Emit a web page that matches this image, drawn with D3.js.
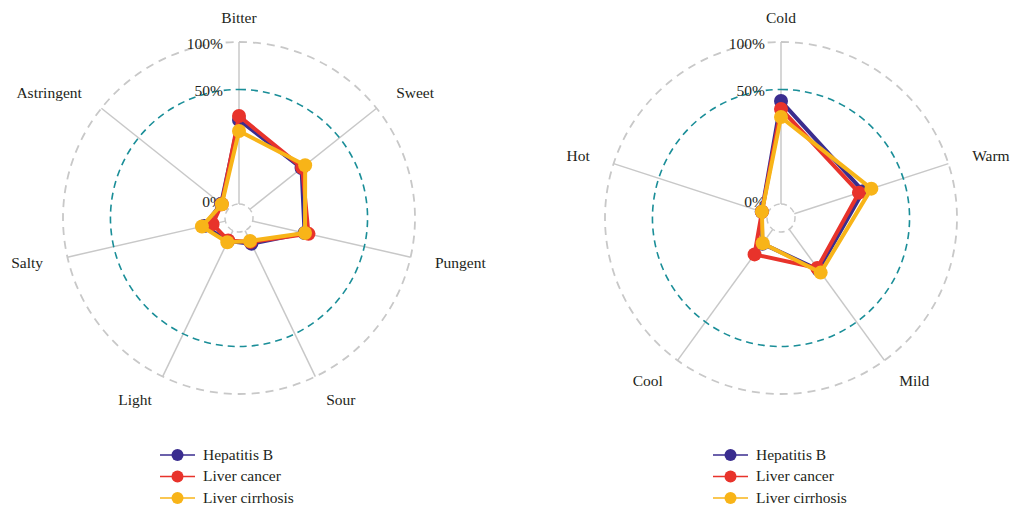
<!DOCTYPE html>
<html><head><meta charset="utf-8">
<script src="https://cdn.jsdelivr.net/npm/d3@7"></script>
<style>body{margin:0;background:#fff}text{font-family:"Liberation Serif","DejaVu Serif",serif;fill:#231f20}</style>
</head><body>
<svg id="c" width="1016" height="509"></svg>
<script>
const seriesNames = ["Hepatitis B", "Liver cancer", "Liver cirrhosis"];
const seriesColors = ["#3a2d8f", "#e8332b", "#f8b418"];
const tasteAxes = ["Bitter", "Sweet", "Pungent", "Sour", "Light", "Salty", "Astringent"];
const tasteHepB = [0.269, 0.166, 0.108, 0.008, 0.005, 0.018, 0.003];
const tasteCancer = [0.295, 0.17, 0.125, 0.006, 0.0045, 0.0065, 0.0025];
const tasteCirrhosis = [0.203, 0.19, 0.11, 0.005, 0.0064, 0.022, 0.0024];
const natureAxes = ["Cold", "Warm", "Mild", "Cool", "Hot"];
const natureHepB = [0.404, 0.2, 0.095, 0.012, 0.0015];
const natureCancer = [0.344, 0.176, 0.087, 0.0366, 0.0014];
const natureCirrhosis = [0.288, 0.25, 0.109, 0.0113, 0.0014];
const tickValues = [0, 0.5, 1];
const tickLabels = ["0%", "50%", "100%"];

const svg = d3.select("#c");

function radar(cx, cy, axes, seriesVals, legendX) {
  const R = 176, r0 = 14;
  const r = d3.scaleSqrt().domain([0, 1]).range([r0, R]);
  const ang = d3.scalePoint().domain(axes).range([0, 2 * Math.PI * (axes.length - 1) / axes.length]);
  const g = svg.append("g").attr("transform", `translate(${cx},${cy})`);
  const pt = (a, rad) => [Math.sin(ang(a)) * rad, -Math.cos(ang(a)) * rad];
  axes.forEach(a => {
    const p0 = pt(a, r0), p1 = pt(a, R);
    g.append("line").attr("x1", p0[0]).attr("y1", p0[1]).attr("x2", p1[0]).attr("y2", p1[1])
      .attr("stroke", "#c8c8c8").attr("stroke-width", 1.5);
  });
  const cg = g.append("g").attr("transform", "rotate(-90)");
  cg.append("circle").attr("r", r(0)).attr("fill", "none").attr("stroke", "#c8c8c8")
    .attr("stroke-width", 1.5).attr("stroke-dasharray", "6,4");
  cg.append("circle").attr("r", r(0.5)).attr("fill", "none").attr("stroke", "#1a8e98")
    .attr("stroke-width", 1.6).attr("stroke-dasharray", "7,5");
  cg.append("circle").attr("r", r(1)).attr("fill", "none").attr("stroke", "#c8c8c8")
    .attr("stroke-width", 1.8).attr("stroke-dasharray", "8,6");
  tickValues.forEach((t, i) => {
    g.append("text").attr("x", -16).attr("y", -r(t) + (t === 0 ? -1 : 3)).attr("text-anchor", "end")
      .attr("dominant-baseline", "middle").style("font-size", "15.5px").text(tickLabels[i]);
  });
  axes.forEach(a => {
    const p = pt(a, 201);
    const s = Math.sin(ang(a));
    g.append("text").attr("x", p[0]).attr("y", p[1] + 2)
      .attr("text-anchor", Math.abs(s) < 0.01 ? "middle" : (s > 0 ? "start" : "end"))
      .attr("dominant-baseline", "middle").style("font-size", "15.5px").text(a);
  });
  const line = d3.lineRadial().angle((d, i) => ang(axes[i])).radius(d => r(d)).curve(d3.curveLinearClosed);
  seriesVals.forEach((vals, si) => {
    const sg = g.append("g");
    sg.append("path").attr("d", line(vals)).attr("fill", "none").attr("stroke", seriesColors[si])
      .attr("stroke-width", 4).attr("stroke-linejoin", "round");
    vals.forEach((v, i) => {
      const p = pt(axes[i], r(v));
      sg.append("circle").attr("cx", p[0]).attr("cy", p[1]).attr("r", 7).attr("fill", seriesColors[si]);
    });
  });
  const lg = svg.append("g");
  seriesNames.forEach((n, i) => {
    const y = 455 + i * 21.5;
    lg.append("line").attr("x1", legendX).attr("x2", legendX + 35).attr("y1", y).attr("y2", y)
      .attr("stroke", seriesColors[i]).attr("stroke-width", 1.5);
    lg.append("circle").attr("cx", legendX + 17.5).attr("cy", y).attr("r", 6).attr("fill", seriesColors[i]);
    lg.append("text").attr("x", legendX + 43).attr("y", y + 1).attr("dominant-baseline", "middle")
      .style("font-size", "15.5px").text(n);
  });
}

radar(239, 218, tasteAxes, [tasteHepB, tasteCancer, tasteCirrhosis], 160);
radar(781, 218, natureAxes, [natureHepB, natureCancer, natureCirrhosis], 713);
</script>
</body></html>
